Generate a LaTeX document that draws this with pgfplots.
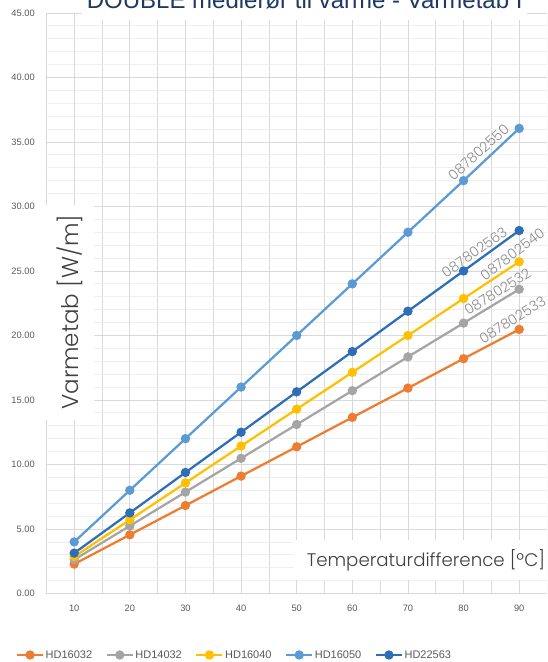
\documentclass[border=0pt]{standalone}
\usepackage{fontspec}
\setmainfont{Liberation Sans}
\newfontfamily\poplight{Poppins Light}
\usepackage{pgfplots}
\pgfplotsset{compat=1.18}

\definecolor{cOrange}{HTML}{ED7D31}
\definecolor{cGray}{HTML}{A5A5A5}
\definecolor{cYellow}{HTML}{FFC000}
\definecolor{cLBlue}{HTML}{5B9BD5}
\definecolor{cDBlue}{HTML}{2E6DB8}
\definecolor{titleblue}{HTML}{1F3864}
\definecolor{tickgray}{HTML}{595959}
\definecolor{labgray}{HTML}{404040}
\definecolor{annot}{HTML}{8C8C8C}
\definecolor{gridmaj}{HTML}{D9D9D9}
\definecolor{gridmin}{HTML}{EEEEEE}

\begin{document}
\begin{tikzpicture}
\useasboundingbox (0,0) rectangle (547pt,662pt);
\clip (0,0) rectangle (547pt,662pt);
\begin{axis}[
  at={(46.4pt,68.5pt)}, anchor=south west,
  scale only axis, width=500.6pt, height=580.6pt,
  xmin=5, xmax=95, ymin=0, ymax=45,
  clip=false,
  axis line style={draw=none},
  tick style={draw=none},
  major tick length=0pt, minor tick length=0pt,
  % dark vertical lines between the categories
  xtick={5,15,...,95}, xticklabels={},
  extra x ticks={10,20,...,90},
  extra x tick style={grid style={gridmin, line width=0.75pt}},
  xmajorgrids,
  ytick={0,5,...,45},
  minor y tick num=4,
  ymajorgrids, yminorgrids,
  extra y ticks={0}, extra y tick labels={},
  extra y tick style={grid style={color=gridmaj!90!black, line width=1.25pt}},
  major grid style={gridmaj, line width=0.75pt},
  minor grid style={gridmin, line width=0.75pt},
  xticklabel shift=11.5pt,
  yticklabel shift=11.5pt,
  xticklabel style={inner sep=0pt, font=\fontsize{9.3}{11}\selectfont, text=tickgray,
    /pgf/number format/assume math mode=true},
  yticklabel style={inner sep=0pt, font=\fontsize{9.3}{11}\selectfont, text=tickgray,
    /pgf/number format/.cd, fixed, fixed zerofill, precision=2, assume math mode=true},
  title={DOUBLE medierør til varme - Varmetab I},
  title style={at={(0.516,0.998)}, anchor=base, fill=white, text depth=0pt,
    inner xsep=4.5pt, inner ysep=11.5pt, font=\fontsize{24}{28}\selectfont, text=titleblue},
  every axis plot/.append style={line width=2.25pt, mark=*, mark size=3.5pt, mark options={solid}},
  legend columns=5,
  legend image code/.code={\draw[mark repeat=2, mark phase=2, #1]
    plot coordinates {(0pt,0pt) (13pt,0pt) (26pt,0pt)};},
  legend style={at={(-0.0613,-0.1059)}, anchor=west, draw=none, fill=none,
    font=\fontsize{11}{13}\selectfont, text=tickgray, inner sep=0pt,
    nodes={inner sep=1.5pt},
    /tikz/every even column/.append style={column sep=12pt}},
]

\addplot[cOrange] coordinates {
  (10,2.28) (20,4.55) (30,6.82) (40,9.10) (50,11.37)
  (60,13.65) (70,15.92) (80,18.20) (90,20.47)
};
\addlegendentry{HD16032}

\addplot[cGray] coordinates {
  (10,2.62) (20,5.24) (30,7.86) (40,10.48) (50,13.10)
  (60,15.72) (70,18.34) (80,20.96) (90,23.58)
};
\addlegendentry{HD14032}

\addplot[cYellow] coordinates {
  (10,2.86) (20,5.71) (30,8.57) (40,11.43) (50,14.29)
  (60,17.14) (70,20.00) (80,22.86) (90,25.71)
};
\addlegendentry{HD16040}

\addplot[cLBlue] coordinates {
  (10,4.00) (20,8.00) (30,12.00) (40,16.00) (50,20.00)
  (60,24.00) (70,28.00) (80,32.00) (90,36.05)
};
\addlegendentry{HD16050}

\addplot[cDBlue] coordinates {
  (10,3.13) (20,6.25) (30,9.38) (40,12.50) (50,15.63)
  (60,18.75) (70,21.88) (80,25.00) (90,28.13)
};
\addlegendentry{HD22563}

% article numbers along the lines
\begin{scope}[every node/.style={font=\poplight\fontsize{14}{16}\selectfont, text=annot}]
\node[rotate=42] at (axis cs:82.7,34.2) {087802550};
\node[rotate=35] at (axis cs:81.95,26.45) {087802563};
\node[rotate=37] at (axis cs:88.8,26.3) {087802540};
\node[rotate=32] at (axis cs:86.1,23.4) {087802532};
\node[rotate=32] at (axis cs:88.8,21.2) {087802533};
\end{scope}

% axis titles sit in white boxes over the grid
\node[rotate=90, fill=white, inner xsep=10pt, inner ysep=11pt,
  font=\poplight\fontsize{23}{26}\selectfont, text=labgray]
  at (axis cs:9.23,21.8) {Varmetab [W/m]};
\node[anchor=west, fill=white, inner xsep=13pt, minimum height=40pt,
  font=\poplight\fontsize{18.2}{22}\selectfont, text=labgray]
  at (axis cs:49.45,2.6) {Temperaturdifference [ºC]};

\end{axis}
\end{tikzpicture}
\end{document}
